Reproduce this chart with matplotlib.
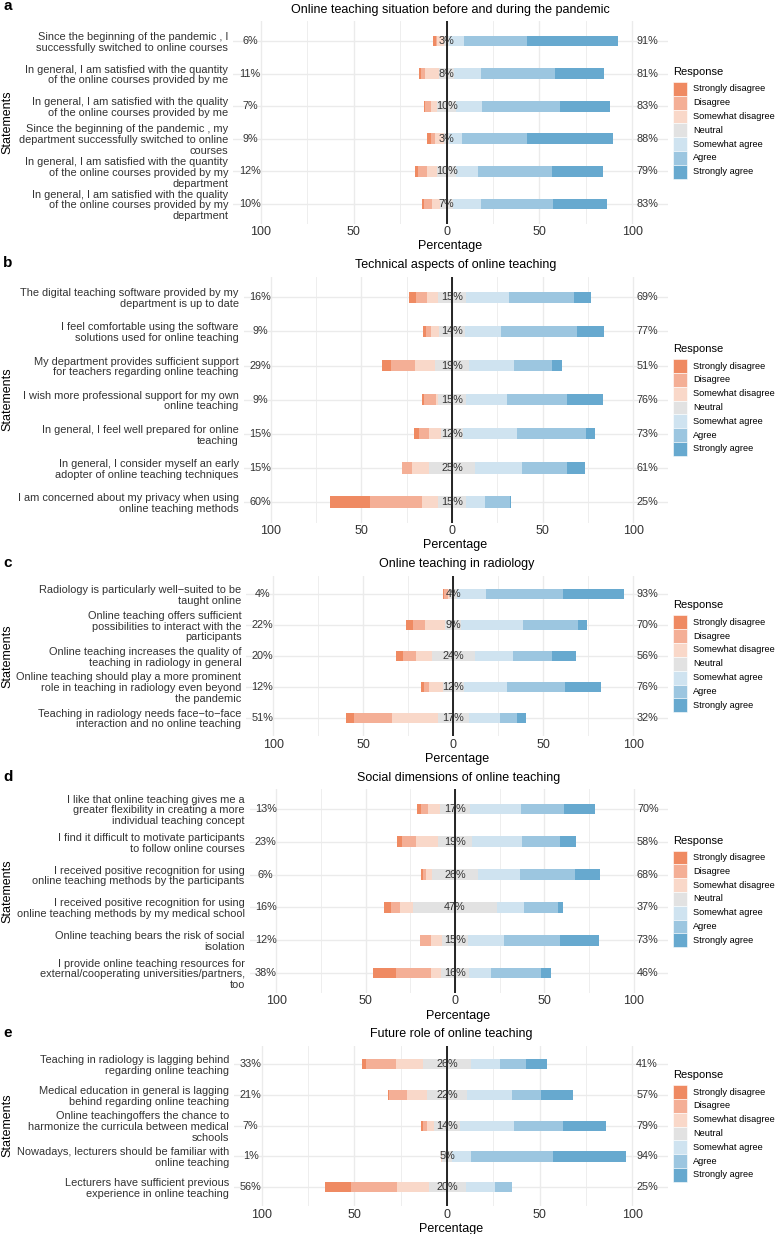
import numpy as np
import matplotlib.pyplot as plt
from matplotlib.patches import Rectangle

plt.rcParams['font.family'] = ['Liberation Sans', 'DejaVu Sans']

responses = ['Strongly disagree', 'Disagree', 'Somewhat disagree', 'Neutral',
             'Somewhat agree', 'Agree', 'Strongly agree']

tags = ['a', 'b', 'c', 'd', 'e']
titles = ['Online teaching situation before and during the pandemic',
          'Technical aspects of online teaching',
          'Online teaching in radiology',
          'Social dimensions of online teaching',
          'Future role of online teaching']

# statements, top to bottom; values are % per response level (SD, D, SWD, N, SWA, A, SA)
a_items = ['Since the beginning of the pandemic , I\nsuccessfully switched to online courses',
           'In general, I am satisfied with the quantity\nof the online courses provided by me',
           'In general, I am satisfied with the quality\nof the online courses provided by me',
           'Since the beginning of the pandemic , my\ndepartment successfully switched to online\ncourses',
           'In general, I am satisfied with the quantity\nof the online courses provided by my\ndepartment',
           'In general, I am satisfied with the quality\nof the online courses provided by my\ndepartment']
a_values = [[1.5, 1.0, 3.5, 3, 8.0, 34.0, 49.0],
            [1.3, 2.3, 7.4, 8, 14.5, 40.0, 26.5],
            [0.5, 3.0, 3.5, 10, 14.0, 42.0, 27.0],
            [2.0, 2.0, 5.0, 3, 7.0, 35.0, 46.0],
            [1.5, 5.0, 5.5, 10, 12.0, 40.0, 27.0],
            [1.3, 4.5, 4.2, 7, 15.0, 39.0, 29.0]]

b_items = ['The digital teaching software provided by my\ndepartment is up to date',
           'I feel comfortable using the software\nsolutions used for online teaching',
           'My department provides sufficient support\nfor teachers regarding online teaching',
           'I wish more professional support for my own\nonline teaching',
           'In general, I feel well prepared for online\nteaching',
           'In general, I consider myself an early\nadopter of online teaching techniques',
           'I am concerned about my privacy when using\nonline teaching methods']
b_values = [[3.5, 6.5, 6.0, 15, 24.0, 36.0, 9.0],
            [1.7, 2.8, 4.5, 14, 20.0, 42.0, 15.0],
            [5.0, 13.0, 11.0, 19, 25.0, 21.0, 5.0],
            [0.9, 7.0, 1.1, 15, 23.0, 33.0, 20.0],
            [2.8, 5.5, 6.7, 12, 30.0, 38.0, 5.0],
            [0.0, 5.5, 9.5, 25, 26.0, 25.0, 10.0],
            [22.5, 28.5, 9.0, 15, 11.0, 13.5, 0.5]]

c_items = ['Radiology is particularly well\u2212suited to be\ntaught online',
           'Online teaching offers sufficient\npossibilities to interact with the\nparticipants',
           'Online teaching increases the quality of\nteaching in radiology in general',
           'Online teaching should play a more prominent\nrole in teaching in radiology even beyond\nthe pandemic',
           'Teaching in radiology needs face\u2212to\u2212face\ninteraction and no online teaching']
c_values = [[1.1, 2.0, 0.9, 4, 16.0, 43.0, 34.0],
            [4.0, 7.0, 11.0, 9, 34.0, 31.0, 5.0],
            [4.3, 7.0, 8.7, 24, 21.0, 22.0, 13.0],
            [1.5, 3.1, 7.4, 12, 24.0, 32.0, 20.0],
            [4.6, 20.9, 25.5, 17, 17.6, 9.4, 5.0]]

d_items = ['I like that online teaching gives me a\ngreater flexibility in creating a more\nindividual teaching concept',
           'I find it difficult to motivate participants\nto follow online courses',
           'I received positive recognition for using\nonline teaching methods by the participants',
           'I received positive recognition for using\nonline teaching methods by my medical school',
           'Online teaching bears the risk of social\nisolation',
           'I provide online teaching resources for\nexternal/cooperating universities/partners,\ntoo']
d_values = [[2.4, 4.1, 6.5, 17, 28.3, 24.2, 17.5],
            [2.6, 8.2, 12.2, 19, 27.8, 21.6, 8.6],
            [1.1, 1.9, 3.0, 26, 23.4, 31.0, 13.6],
            [3.7, 4.9, 7.4, 47, 14.9, 19.4, 2.7],
            [0.0, 6.0, 6.0, 15, 20.0, 31.5, 21.5],
            [12.7, 20.1, 5.2, 16, 12.1, 28.0, 5.9]]

e_items = ['Teaching in radiology is lagging behind\nregarding online teaching',
           'Medical education in general is lagging\nbehind regarding online teaching',
           'Online teachingoffers the chance to\nharmonize the curricula between medical\nschools',
           'Nowadays, lecturers should be familiar with\nonline teaching',
           'Lecturers have sufficient previous\nexperience in online teaching']
e_values = [[2.2, 16.0, 14.8, 26, 15.5, 14.2, 11.3],
            [0.5, 9.7, 10.8, 22, 24.1, 15.4, 17.5],
            [0.9, 2.5, 3.6, 14, 29.0, 26.8, 23.2],
            [0.0, 0.0, 1.0, 5, 10.2, 44.3, 39.5],
            [14.1, 24.9, 17.0, 20, 15.8, 9.2, 0.0]]

panels = [(a_items, a_values), (b_items, b_values), (c_items, c_values),
          (d_items, d_values), (e_items, e_values)]

colors = ['#EF8A62', '#F4AF96', '#F9D8C9', '#E2E2E2', '#CFE3F0', '#9CC6E0', '#67A9CF']

W, H = 776, 1234
fig = plt.figure(figsize=(W / 100, H / 100), dpi=100)

# panel boxes in pixels: left, top, bottom, tag baseline
boxes = [(233.2, 21.4, 223.6, 10.5),
         (243.6, 276.8, 522.5, 267),
         (246.3, 575.8, 736.2, 567),
         (249.6, 789.3, 992.7, 781),
         (234.0, 1045.5, 1205.8, 1037)]
right = 667.5
txt = '#333333'

for (items, values), (L, top, bot, tagy), title, tag in zip(panels, boxes, titles, tags):
    ax = fig.add_axes([L / W, 1 - bot / H, (right - L) / W, (bot - top) / H])
    v = np.array(values, dtype=float)
    n = len(items)
    y = n - np.arange(n)
    half = v[:, 3] / 2
    h = 0.33

    edge = -half
    for k in [2, 1, 0]:
        ax.barh(y, v[:, k], left=edge - v[:, k], height=h, color=colors[k], lw=0, zorder=2)
        edge = edge - v[:, k]
    ax.barh(y, v[:, 3], left=-half, height=h, color=colors[3], lw=0, zorder=2)
    edge = half.copy()
    for k in [4, 5, 6]:
        ax.barh(y, v[:, k], left=edge, height=h, color=colors[k], lw=0, zorder=2)
        edge = edge + v[:, k]

    ax.axvline(0, color='black', lw=1.2, zorder=3)

    low = v[:, :3].sum(axis=1)
    high = v[:, 4:].sum(axis=1)
    for yi, lo, ne, hi in zip(y, low, v[:, 3], high):
        ax.text(-106, yi, f'{lo:.0f}%', ha='center', va='center', fontsize=7.8, color=txt, zorder=4)
        ax.text(0, yi, f'{ne:.0f}%', ha='center', va='center', fontsize=7.8, color=txt, zorder=4)
        ax.text(108, yi, f'{hi:.0f}%', ha='center', va='center', fontsize=7.8, color=txt, zorder=4)

    ax.set_xlim(-115, 119)
    ax.set_ylim(0.4, n + 0.6)
    ax.set_xticks([-100, -50, 0, 50, 100])
    ax.set_xticklabels(['100', '50', '0', '50', '100'], fontsize=9, color=txt)
    ax.set_xticks([-75, -25, 25, 75], minor=True)
    ax.set_yticks(y)
    ax.set_yticklabels(items, fontsize=7.9, color=txt, linespacing=1.1)
    ax.tick_params(which='both', length=0)
    ax.tick_params(axis='x', pad=2)
    ax.tick_params(axis='y', pad=3.5)
    ax.grid(which='major', color='#EBEBEB', lw=1.0, zorder=0)
    ax.grid(which='minor', axis='x', color='#EBEBEB', lw=0.6, zorder=0)
    ax.set_axisbelow(True)
    for s in ax.spines.values():
        s.set_visible(False)
    ax.set_xlabel('Percentage', fontsize=9, labelpad=1.5)

    cy = (top + bot) / 2
    fig.text(7.5 / W, 1 - cy / H, 'Statements', rotation=90, ha='center', va='center', fontsize=9)
    fig.text((L + right) / 2 / W, 1 - (top - 11.5) / H, title, ha='center', va='center', fontsize=9)
    fig.text(3 / W, 1 - tagy / H, tag, ha='left', va='baseline', fontsize=11, fontweight='bold')

    # legend drawn in pixel units to match key size
    fig.text(673 / W, 1 - (cy - 50.5) / H, 'Response', ha='left', va='center', fontsize=8)
    for i, (lab, c) in enumerate(zip(responses, colors)):
        y0 = cy - 40.5 + i * 13.8
        fig.add_artist(Rectangle((673 / W, 1 - (y0 + 13.8) / H), 14 / W, 13.8 / H,
                                 transform=fig.transFigure, facecolor=c,
                                 edgecolor='white', lw=0.4))
        fig.text(693 / W, 1 - (y0 + 6.9) / H, lab, ha='left', va='center', fontsize=6.7)

fig.savefig('out.png', dpi=100)
